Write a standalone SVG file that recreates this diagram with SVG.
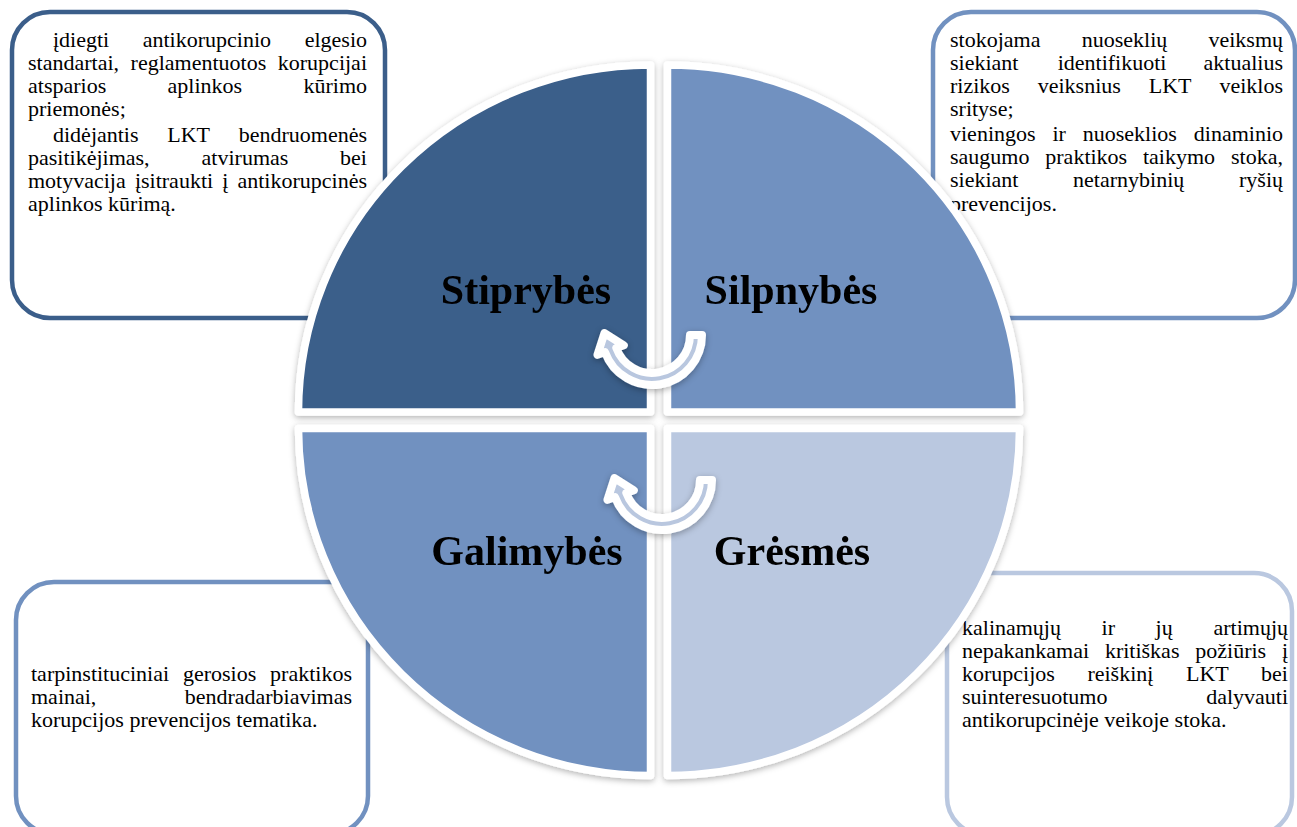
<svg xmlns="http://www.w3.org/2000/svg" width="1297" height="827" viewBox="0 0 1297 827">
<style>
.box{fill:#fff;stroke-width:4.5}
.t{font-family:"Liberation Serif","Times New Roman",serif;font-size:22px;fill:#000}
.e{text-anchor:end}
.q{stroke:#fff;stroke-width:7.5;stroke-linejoin:round}
.lbl{font-family:"Liberation Serif","Times New Roman",serif;font-size:42px;font-weight:bold;fill:#000;text-anchor:middle}
.arr{fill:#B9C7DF;stroke:#fff;stroke-width:8;stroke-linejoin:round}
</style>
<defs>
<filter id="sh" x="-10%" y="-10%" width="120%" height="125%">
<feDropShadow dx="0" dy="2" stdDeviation="3" flood-color="#000" flood-opacity="0.3"/>
</filter>
<path id="carrow" d="M702,335 A50,50 0 0 1 605.0,352.1 L597.5,354.8 L604.5,333.1 L623.8,345.3 L616.3,348.0 A38,38 0 0 0 690,335 Z"/>
</defs>
<rect width="1297" height="827" fill="#fff"/>

<g id="box-stiprybes">
<rect class="box" x="12" y="12" width="373" height="306" rx="38" stroke="#3B5E8A"/>
<text class="t"><tspan x="53" y="47">įdiegti</tspan><tspan x="142.7" y="47">antikorupcinio</tspan><tspan class="e" x="367" y="47">elgesio</tspan><tspan x="28" y="70">standartai,</tspan><tspan x="130.6" y="70">reglamentuotos</tspan><tspan class="e" x="367" y="70">korupcijai</tspan><tspan x="28" y="93">atsparios</tspan><tspan x="167.6" y="93">aplinkos</tspan><tspan class="e" x="367" y="93">kūrimo</tspan><tspan x="28" y="116">priemonės;</tspan><tspan x="53" y="142">didėjantis</tspan><tspan x="167.3" y="142">LKT</tspan><tspan class="e" x="367" y="142">bendruomenės</tspan><tspan x="28" y="165">pasitikėjimas,</tspan><tspan x="201.6" y="165">atvirumas</tspan><tspan class="e" x="367" y="165">bei</tspan><tspan x="28" y="188">motyvacija</tspan><tspan x="134.9" y="188">įsitraukti</tspan><tspan x="222.3" y="188">į</tspan><tspan class="e" x="367" y="188">antikorupcinės</tspan><tspan x="28" y="211">aplinkos kūrimą.</tspan></text>
</g>

<g id="box-silpnybes">
<rect class="box" x="933" y="12" width="362" height="306" rx="38" stroke="#7191C0"/>
<text class="t"><tspan x="950" y="47">stokojama</tspan><tspan x="1081.7" y="47">nuoseklių</tspan><tspan class="e" x="1283" y="47">veiksmų</tspan><tspan x="950" y="70">siekiant</tspan><tspan x="1057.7" y="70">identifikuoti</tspan><tspan class="e" x="1283" y="70">aktualius</tspan><tspan x="950" y="93">rizikos</tspan><tspan x="1037.7" y="93">veiksnius</tspan><tspan x="1148.7" y="93">LKT</tspan><tspan class="e" x="1283" y="93">veiklos</tspan><tspan x="950" y="116">srityse;</tspan><tspan x="950" y="141">vieningos</tspan><tspan x="1052.4" y="141">ir</tspan><tspan x="1082.7" y="141">nuoseklios</tspan><tspan class="e" x="1283" y="141">dinaminio</tspan><tspan x="950" y="164">saugumo</tspan><tspan x="1045.3" y="164">praktikos</tspan><tspan x="1142.9" y="164">taikymo</tspan><tspan class="e" x="1283" y="164">stoka,</tspan><tspan x="950" y="187">siekiant</tspan><tspan x="1073.1" y="187">netarnybinių</tspan><tspan class="e" x="1283" y="187">ryšių</tspan><tspan x="950" y="211">prevencijos.</tspan></text>
</g>

<g id="box-galimybes">
<rect class="box" x="16" y="582" width="352" height="252" rx="38" stroke="#7191C0"/>
<text class="t"><tspan x="31" y="681">tarpinstituciniai</tspan><tspan x="182.9" y="681">gerosios</tspan><tspan class="e" x="352" y="681">praktikos</tspan><tspan x="31" y="704">mainai,</tspan><tspan class="e" x="352" y="704">bendradarbiavimas</tspan><tspan x="31" y="727">korupcijos prevencijos tematika.</tspan></text>
</g>

<g id="box-gresmes">
<rect class="box" x="947" y="573" width="345" height="262" rx="38" stroke="#BAC8E0"/>
<text class="t"><tspan x="962" y="635">kalinamųjų</tspan><tspan x="1101.6" y="635">ir</tspan><tspan x="1155.6" y="635">jų</tspan><tspan class="e" x="1288" y="635">artimųjų</tspan><tspan x="962" y="658">nepakankamai</tspan><tspan x="1104.9" y="658">kritiškas</tspan><tspan x="1195.3" y="658">požiūris</tspan><tspan class="e" x="1288" y="658">į</tspan><tspan x="962" y="681">korupcijos</tspan><tspan x="1087.4" y="681">reiškinį</tspan><tspan x="1186" y="681">LKT</tspan><tspan class="e" x="1288" y="681">bei</tspan><tspan x="962" y="704">suinteresuotumo</tspan><tspan class="e" x="1288" y="704">dalyvauti</tspan><tspan x="962" y="727">antikorupcinėje veikoje stoka.</tspan></text>
</g>

<g id="q-stiprybes" filter="url(#sh)">
<path class="q" fill="#3B5E8A" d="M650.5,412 H298.5 A352,347 0 0 1 650.5,65 Z"/>
<text class="lbl" x="526" y="304">Stiprybės</text>
</g>
<g id="q-silpnybes" filter="url(#sh)">
<path class="q" fill="#7191C0" d="M667.5,412 V65 A352,347 0 0 1 1019.5,412 Z"/>
<text class="lbl" x="791" y="304">Silpnybės</text>
</g>
<g id="q-galimybes" filter="url(#sh)">
<path class="q" fill="#7191C0" d="M650.5,428.5 H298.5 A352,347 0 0 0 650.5,775.5 Z"/>
<text class="lbl" x="527" y="565">Galimybės</text>
</g>
<g id="q-gresmes" filter="url(#sh)">
<path class="q" fill="#BAC8E0" d="M667.5,428.5 H1019.5 A352,347 0 0 1 667.5,775.5 Z"/>
<text class="lbl" x="792" y="565">Grėsmės</text>
</g>

<g id="connectors" filter="url(#sh)">
<use href="#carrow" class="arr"/>
<use href="#carrow" class="arr" transform="translate(10,145)"/>
</g>
</svg>
